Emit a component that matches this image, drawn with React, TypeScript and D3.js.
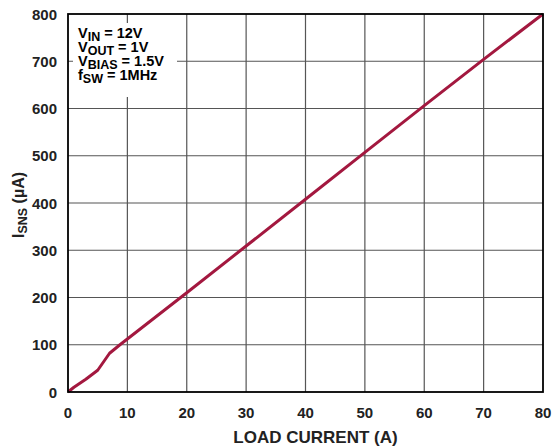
import React from "react";
import * as d3 from "d3";

const loadCurrent = [0, 1, 3, 5, 7, 8.75, 20, 30, 40, 50, 60, 70, 80];
const isns = [0, 10, 27, 46, 82, 100, 210, 309, 408, 507, 606, 704, 800];
const xTicks = [0, 10, 20, 30, 40, 50, 60, 70, 80];
const yTicks = [0, 100, 200, 300, 400, 500, 600, 700, 800];
const conditions = [
  { main: "V", sub: "IN", rest: " = 12V" },
  { main: "V", sub: "OUT", rest: " = 1V" },
  { main: "V", sub: "BIAS", rest: "  = 1.5V" },
  { main: "f", sub: "SW", rest: " = 1MHz" },
];

export default function App() {
  const W = 553, H = 448;
  const L = 68, R = 543, T = 14, B = 392;
  const x = d3.scaleLinear().domain([0, 80]).range([L, R]);
  const y = d3.scaleLinear().domain([0, 800]).range([B, T]);
  const line = d3.line<number>().x((_, i) => x(loadCurrent[i])).y((d) => y(d));
  const font = "'Liberation Sans', Arial, Helvetica, sans-serif";
  return (
    <svg width={W} height={H} style={{ position: "absolute", left: 0, top: 0 }} fontFamily={font}>
      <rect width={W} height={H} fill="#fff" />
      {xTicks.slice(1, -1).map((t) => (
        <line key={"gx" + t} x1={x(t)} x2={x(t)} y1={T} y2={B} stroke="#555" strokeWidth={1.2} />
      ))}
      {yTicks.slice(1, -1).map((t) => (
        <line key={"gy" + t} x1={L} x2={R} y1={y(t)} y2={y(t)} stroke="#555" strokeWidth={1.2} />
      ))}
      <rect x={73} y={23} width={104} height={74} fill="#fff" />
      <g fontWeight="bold" fontSize={14.5} fill="#000">
        {conditions.map((c, i) => (
          <text key={i} x={78} y={37.5 + i * 14}>
            {c.main}
            <tspan fontSize={12.5} dy={3.5}>{c.sub}</tspan>
            <tspan dy={-3.5}>{c.rest}</tspan>
          </text>
        ))}
      </g>
      <path d={line(isns) || ""} fill="none" stroke="#a3183f" strokeWidth={3} strokeLinejoin="round" />
      <rect x={L} y={T} width={R - L} height={B - T} fill="none" stroke="#000" strokeWidth={1.8} />
      <g fontWeight="bold" fontSize={15} fill="#222">
        {yTicks.map((t) => (
          <text key={"yl" + t} x={57} y={y(t) + 5.5} textAnchor="end">{t}</text>
        ))}
        {xTicks.map((t) => (
          <text key={"xl" + t} x={x(t)} y={418} textAnchor="middle">{t}</text>
        ))}
      </g>
      <text x={x(40) + 10} y={443} textAnchor="middle" fontWeight="bold" fontSize={17} fill="#222">
        LOAD CURRENT (A)
      </text>
      <text transform="translate(24,205) rotate(-90)" textAnchor="middle" fontWeight="bold" fontSize={16} fill="#222">
        I<tspan fontSize={12.5} dy={3}>SNS</tspan>
        <tspan dy={-3}> (µA)</tspan>
      </text>
    </svg>
  );
}
